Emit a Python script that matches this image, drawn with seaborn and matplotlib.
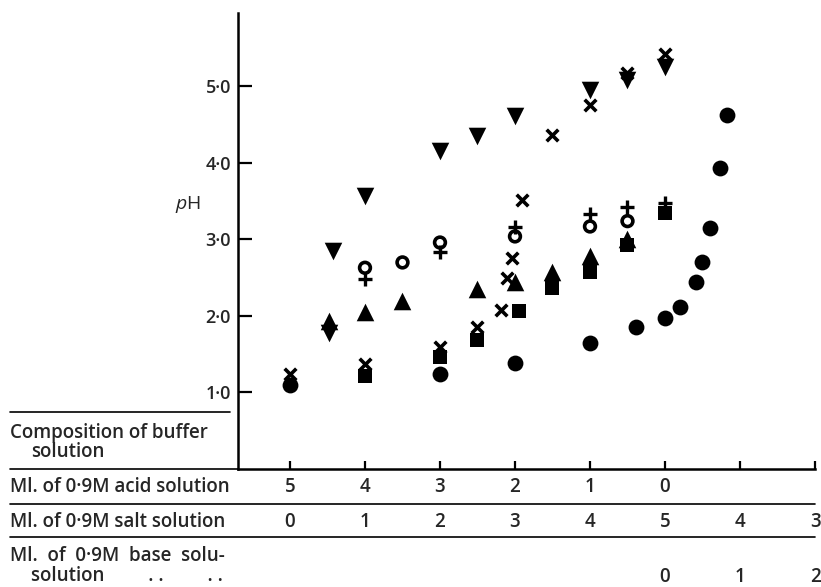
import numpy as np
import pandas as pd
import seaborn as sns
import matplotlib.pyplot as plt
from matplotlib.lines import Line2D
from matplotlib.transforms import blended_transform_factory

# x position: 0 = 5 ml acid / 0 ml salt, 5 = 0 ml acid / 5 ml salt, 7 = 2 ml base
down_tri_x = [0.52, 0.58, 1.0, 2.0, 2.5, 3.0, 4.0, 4.5, 5.0]
down_tri_y = [1.78, 2.85, 3.57, 4.16, 4.35, 4.61, 4.96, 5.08, 5.26]

cross_x = [0.0, 1.0, 2.0, 2.5, 2.81, 2.9, 2.96, 3.1, 3.5, 4.0, 4.5, 5.0]
cross_y = [1.24, 1.37, 1.59, 1.86, 2.08, 2.49, 2.76, 3.51, 4.36, 4.76, 5.18, 5.42]

up_tri_x = [0.52, 1.0, 1.5, 2.5, 3.0, 3.5, 4.0, 4.5]
up_tri_y = [1.93, 2.05, 2.2, 2.35, 2.45, 2.57, 2.78, 3.0]

square_x = [1.0, 2.0, 2.5, 3.05, 3.5, 4.0, 4.5, 5.0]
square_y = [1.21, 1.47, 1.69, 2.06, 2.36, 2.57, 2.93, 3.35]

ring_x = [1.0, 1.5, 2.0, 3.0, 4.0, 4.5]
ring_y = [2.63, 2.70, 2.96, 3.04, 3.17, 3.24]

plus_x = [1.0, 2.0, 3.0, 4.0, 4.5, 5.0]
plus_y = [2.48, 2.84, 3.16, 3.33, 3.42, 3.48]

dot_x = [0.0, 2.0, 3.0, 4.0, 4.61, 5.0, 5.2, 5.41, 5.5, 5.6, 5.73, 5.83]
dot_y = [1.1, 1.24, 1.39, 1.65, 1.85, 1.98, 2.12, 2.44, 2.7, 3.15, 3.94, 4.63]

tick_pos = [0, 1, 2, 3, 4, 5, 6, 7]
acid_labels = ['5', '4', '3', '2', '1', '0', '', '']
salt_labels = ['0', '1', '2', '3', '4', '5', '4', '3']
base_labels = ['', '', '', '', '', '0', '1', '2']
ph_ticks = [1, 2, 3, 4, 5]
ph_labels = ['1·0', '2·0', '3·0', '4·0', '5·0']

sns.set_style('ticks')
plt.rcParams['font.family'] = ['Open Sans', 'DejaVu Sans']
plt.rcParams['mathtext.fontset'] = 'custom'
plt.rcParams['mathtext.it'] = 'Open Sans:italic'
plt.rcParams['mathtext.rm'] = 'Open Sans'

W, H = 821, 587
fig = plt.figure(figsize=(8.21, 5.87), dpi=100)
ax = fig.add_axes([238 / W, 1 - 469 / H, (815 - 238) / W, (469 - 13) / H])

filled = dict(color='black', edgecolor='black', linewidth=0, legend=False, ax=ax)
sns.scatterplot(x=down_tri_x, y=down_tri_y, marker='v', s=160, **filled)
sns.scatterplot(x=up_tri_x, y=up_tri_y, marker='^', s=160, **filled)
sns.scatterplot(x=square_x, y=square_y, marker='s', s=100, **filled)
sns.scatterplot(x=dot_x, y=dot_y, marker='o', s=130, **filled)
sns.scatterplot(x=ring_x, y=ring_y, marker='o', s=60, facecolor='none',
                edgecolor='black', linewidth=2.6, legend=False, ax=ax)
sns.scatterplot(x=cross_x, y=cross_y, marker='x', s=70, color='black',
                linewidth=2.6, legend=False, ax=ax)
sns.scatterplot(x=plus_x, y=plus_y, marker='+', s=110, color='black',
                linewidth=2.4, legend=False, ax=ax)

ax.set_xlim(-0.693, 7.0)
ax.set_ylim(0, 5.96)
sns.despine(ax=ax)
for sp in ax.spines.values():
    sp.set_linewidth(1.8)
    sp.set_color('black')

ax.set_xticks(tick_pos)
ax.set_xticklabels([])
ax.tick_params(axis='x', direction='in', length=6, width=1.6, color='black')
ax.set_yticks(ph_ticks)
ax.set_yticklabels(ph_labels, fontsize=13, fontweight='semibold')
ax.tick_params(axis='y', direction='in', length=10, width=1.6, color='black', pad=5)

ax.set_ylabel('$\\it{p}$H', rotation=0, fontsize=14, ha='center', va='center')
ax.yaxis.set_label_coords(-0.087, 0.579)

# table under the axis
trans = blended_transform_factory(ax.transData, fig.transFigure)
fs = 13.5
for labels, py in [(acid_labels, 487), (salt_labels, 522), (base_labels, 577)]:
    for xp, lab in zip(tick_pos, labels):
        ax.text(xp, 1 - py / H, lab, transform=trans, ha='center', va='center',
                fontsize=fs, fontweight='semibold', clip_on=False)

tw = 'semibold'
fig.text(10 / W, 1 - 433 / H, 'Composition of buffer', fontsize=fs, va='center', fontweight=tw)
fig.text(31 / W, 1 - 452 / H, 'solution', fontsize=fs, va='center', fontweight=tw)
fig.text(10 / W, 1 - 487 / H, 'Ml. of 0·9M acid solution', fontsize=fs, va='center', fontweight=tw)
fig.text(10 / W, 1 - 522 / H, 'Ml. of 0·9M salt solution', fontsize=fs, va='center', fontweight=tw)
fig.text(10 / W, 1 - 556 / H, 'Ml.  of  0·9M  base  solu-', fontsize=fs, va='center', fontweight=tw)
fig.text(31 / W, 1 - 576 / H, 'solution         . .         . .', fontsize=fs,
         va='center', fontweight=tw)

for y0, x1 in [(412, 230), (469, 238), (504, 815), (537, 815)]:
    fig.add_artist(Line2D([10 / W, x1 / W], [1 - y0 / H, 1 - y0 / H],
                          transform=fig.transFigure, color='black', lw=1.2))

fig.savefig('out.png', dpi=100)
